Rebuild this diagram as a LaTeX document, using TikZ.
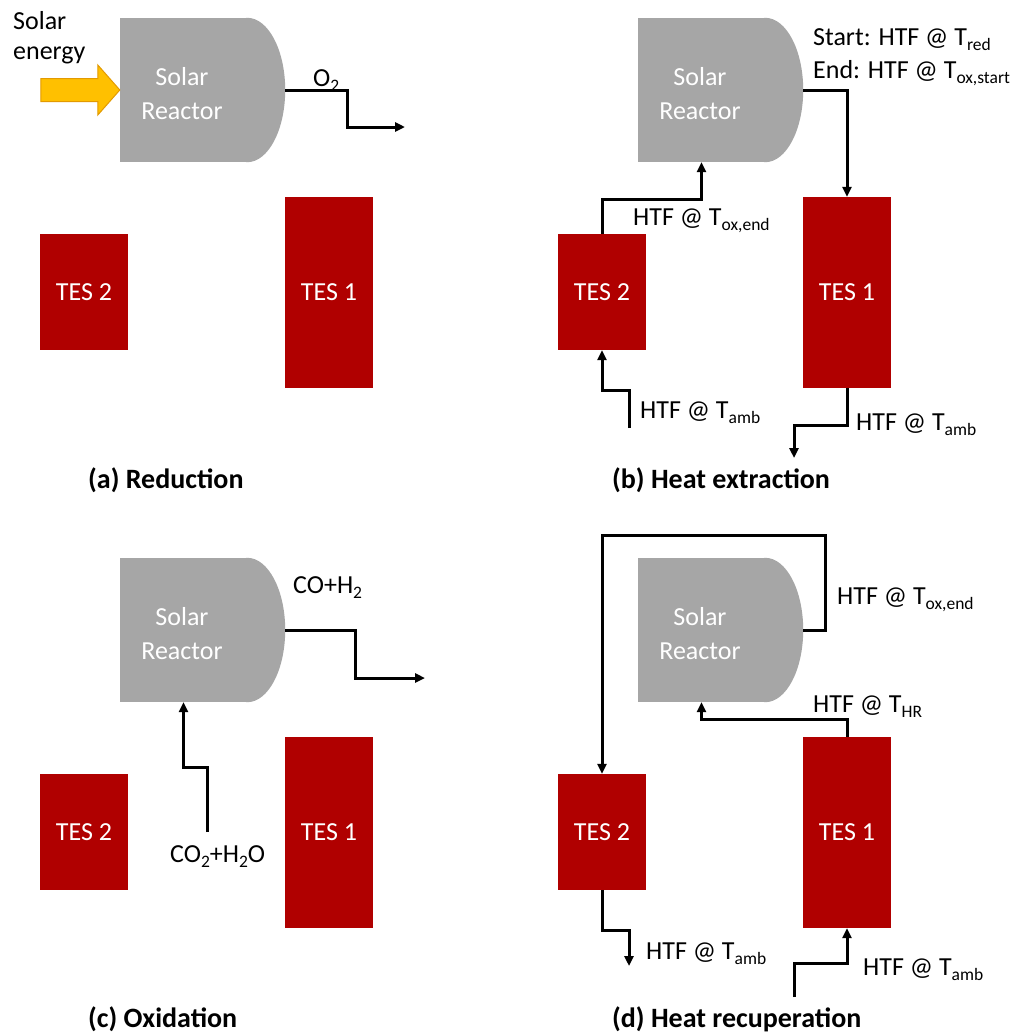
\documentclass[tikz,border=0pt]{standalone}
\usepackage{fontspec}
\setmainfont{Carlito}
\usetikzlibrary{arrows.meta}

\definecolor{reactorgray}{HTML}{A6A6A6}
\definecolor{tesred}{HTML}{B00000}
\definecolor{sunfill}{HTML}{FFC000}
\definecolor{sunedge}{HTML}{E39A00}

% lowered, smaller subscript text
\newcommand\sub[1]{\raisebox{-5.5pt}{\fontsize{17.5}{18}\selectfont #1}}
% rounded outlet side of a solar reactor node, its tip coordinate and its label
\newcommand\reactorcap[1]{%
  \fill[reactorgray] ([xshift=-1pt]#1.north east) -- (#1.north east)
    .. controls ([xshift=21pt]#1.north east) and ([xshift=38pt,yshift=40pt]#1.east) .. ([xshift=38pt]#1.east)
    .. controls ([xshift=38pt,yshift=-40pt]#1.east) and ([xshift=21pt]#1.south east) .. (#1.south east)
    -- ([xshift=-1pt]#1.south east) -- cycle;
  \coordinate (#1-tip) at ([xshift=38pt]#1.east);
  \node[reactortext] (#1-text) at ([xshift=-1.5pt,yshift=-3.5pt]#1.center) {Solar\\Reactor};}

\tikzset{
  reactor/.style={fill=reactorgray, minimum width=127pt, minimum height=144pt, inner sep=0pt},
  reactortext/.style={inner sep=0pt, text=white, align=center, font=\fontsize{26}{34}\selectfont},
  tes/.style={fill=tesred, minimum width=88pt, inner sep=0pt, text=white,
    font=\fontsize{26}{31}\selectfont},
  flow/.style={line width=3pt, -{Triangle[length=10pt,width=9pt]}},
  lbl/.style={anchor=base west, inner sep=0pt, font=\fontsize{26}{31}\selectfont},
  caption/.style={anchor=base west, inner sep=0pt, font=\fontsize{28}{33}\selectfont\bfseries},
}

\begin{document}
\begin{tikzpicture}[x=1pt, y=-1pt]
\useasboundingbox (0,0) rectangle (1017,1036);
\fill[white] (0,0) rectangle (1017,1036);

% ---------- (a) Reduction ----------
\node[reactor] (rA) at (183.5,90) {};
\reactorcap{rA}
\fill[sunfill, draw=sunedge, line width=1pt]
  (rA.west) -- ++(-22,-25) -- ++(0,13.5) -- ++(-57,0) -- ++(0,23) -- ++(57,0) -- ++(0,13.5) -- cycle;
\node[lbl] (sunA) at (13,29) {Solar};
\node[lbl] (sunB) at (13,59) {energy};
\coordinate (aout) at (405,127);
\draw[flow] (rA-tip) -- ++(62,0) |- (aout);
\node[lbl] (o2) at (313,86) {O\sub{2}};
\node[tes, minimum height=116pt] (TES2a) at (84,292) {TES 2};
\node[tes, minimum height=191pt] (TES1a) at (329,292.5) {TES 1};
\node[caption] (capa) at (88,488) {(a) Reduction};

% ---------- (b) Heat extraction ----------
\node[reactor] (rB) at (701.5,90) {};
\reactorcap{rB}
\node[tes, minimum height=116pt] (TES2b) at (602,292) {TES 2};
\node[tes, minimum height=191pt] (TES1b) at (847,292.5) {TES 1};
\draw[flow] (rB-tip) -| (TES1b.north);
\node[lbl] (bstart) at (813,45) {Start: HTF @ T\sub{red}};
\node[lbl] (bend) at (813,78) {End: HTF @ T\sub{ox,start}};
\draw[flow] (TES2b.north) -- ++(0,-34) -| (rB.south);
\node[lbl] (boxend) at (633,225) {HTF @ T\sub{ox,end}};
\coordinate (bin2) at (629,428);
\draw[flow] (bin2) -- ++(0,-38) -| (TES2b.south);
\node[lbl] (bamb2) at (640,418) {HTF @ T\sub{amb}};
\coordinate (bout1) at (794,458);
\draw[flow] (TES1b.south) -- ++(0,37) -| (bout1);
\node[lbl] (bamb1) at (856,430) {HTF @ T\sub{amb}};
\node[caption] (capb) at (612,488) {(b) Heat extraction};

% ---------- (c) Oxidation ----------
\node[reactor] (rC) at (183.5,630) {};
\reactorcap{rC}
\coordinate (cout) at (425,678);
\draw[flow] (rC-tip) -- ++(70,0) |- (cout);
\node[lbl] (syngas) at (293,593) {CO+H\sub{2}};
\coordinate (cin) at (207,832);
\draw[flow] (cin) -- ++(0,-65) -| (rC.south);
\node[lbl] (feed) at (170,862) {CO\sub{2}+H\sub{2}O};
\node[tes, minimum height=116pt] (TES2c) at (84,832) {TES 2};
\node[tes, minimum height=191pt] (TES1c) at (329,832.5) {TES 1};
\node[caption] (capc) at (88,1027) {(c) Oxidation};

% ---------- (d) Heat recuperation ----------
\node[reactor] (rD) at (701.5,630) {};
\reactorcap{rD}
\node[tes, minimum height=116pt] (TES2d) at (602,832) {TES 2};
\node[tes, minimum height=191pt] (TES1d) at (847,832.5) {TES 1};
\draw[flow] (rD-tip) -- ++(22,0) -- ++(0,-95) -| (TES2d.north);
\node[lbl] (doxend) at (837,604) {HTF @ T\sub{ox,end}};
\draw[flow] (TES1d.north) -- ++(0,-17) -| (rD.south);
\node[lbl] (dhr) at (813,712) {HTF @ T\sub{HR}};
\coordinate (dout2) at (629,966);
\draw[flow] (TES2d.south) -- ++(0,40) -| (dout2);
\node[lbl] (damb2) at (646,959) {HTF @ T\sub{amb}};
\coordinate (din1) at (794,997);
\draw[flow] (din1) -- ++(0,-34) -| (TES1d.south);
\node[lbl] (damb1) at (863,975) {HTF @ T\sub{amb}};
\node[caption] (capd) at (612,1027) {(d) Heat recuperation};
\end{tikzpicture}
\end{document}
